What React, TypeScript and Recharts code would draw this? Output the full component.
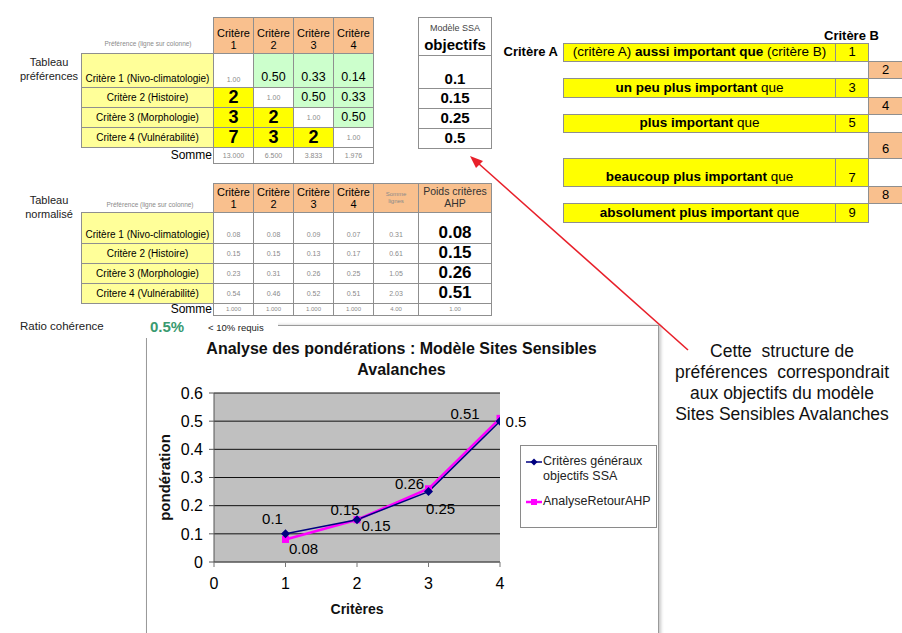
import React from "react";
import {
  LineChart,
  Line,
  XAxis,
  YAxis,
  CartesianGrid,
  Legend,
  LabelList,
  Label,
} from "recharts";

const FONT = '"Liberation Sans", Arial, sans-serif';

// criteria rows of both tables
const criteres = [
  "Critère 1 (Nivo-climatologie)",
  "Critère 2 (Histoire)",
  "Critère 3 (Morphologie)",
  "Critere 4 (Vulnérabilité)",
];
const colNums = ["1", "2", "3", "4"];

// pairwise preference matrix (row over column)
const prefMatrix = [
  [1, 0.5, 0.33, 0.14],
  [2, 1, 0.5, 0.33],
  [3, 2, 1, 0.5],
  [7, 3, 2, 1],
];
const prefSums = ["13.000", "6.500", "3.833", "1.976"];

// normalised matrix
const normMatrix = [
  [0.08, 0.08, 0.09, 0.07],
  [0.15, 0.15, 0.13, 0.17],
  [0.23, 0.31, 0.26, 0.25],
  [0.54, 0.46, 0.52, 0.51],
];
const rowSums = ["0.31", "0.61", "1.05", "2.03"];
const normSums = ["1.000", "1.000", "1.000", "1.000", "4.00", "1.00"];

// weights
const objectifsSSA = [0.1, 0.15, 0.25, 0.5];
const poidsAHP = [0.08, 0.15, 0.26, 0.51];
const xCriteres = [1, 2, 3, 4];
const xTicks = [0, 1, 2, 3, 4];
const yTicks = [0, 0.1, 0.2, 0.3, 0.4, 0.5, 0.6];
const seriesNames = ["Critères généraux objectifs SSA", "AnalyseRetourAHP"];

// Saaty scale
const echelleImpairs = [
  { pre: "(critère A) ", bold: "aussi important que", post: " (critère B)", v: "1" },
  { pre: "", bold: "un peu plus important", post: " que", v: "3" },
  { pre: "", bold: "plus important", post: " que", v: "5" },
  { pre: "", bold: "beaucoup plus important", post: " que", v: "7" },
  { pre: "", bold: "absolument plus important", post: " que", v: "9" },
];
const echellePairs = ["2", "4", "6", "8"];

const chartData = xCriteres.map((c, i) => ({
  critere: c,
  objectifs: objectifsSSA[i],
  ahp: poidsAHP[i],
}));

// label placement (dx, dy) per point
const objLabelPos = [
  [-13, -15],
  [19, 6],
  [12, 17],
  [16, 0],
];
const ahpLabelPos = [
  [18, 9],
  [-12, -10],
  [-19, -5],
  [-35, -5],
];

const BORDER = "1px solid #8f8f8f";
const PALE = "#ffff99";
const YELLOW = "#ffff00";
const GREEN = "#ccffcc";
const ORANGE = "#f9c08e";

function Box(props: any) {
  const { x, y, w, h, bg, align, justify, style, children } = props;
  return (
    <div
      style={{
        position: "absolute",
        left: x,
        top: y,
        width: w + 1,
        height: h + 1,
        background: bg || "#fff",
        border: BORDER,
        boxSizing: "border-box",
        display: "flex",
        alignItems: align || "center",
        justifyContent: justify || "center",
        textAlign: "center",
        lineHeight: 1.1,
        ...style,
      }}
    >
      {children}
    </div>
  );
}

function Txt(props: any) {
  const { x, y, w, children, style } = props;
  return (
    <div
      style={{
        position: "absolute",
        left: x,
        top: y,
        width: w,
        whiteSpace: "nowrap",
        ...style,
      }}
    >
      {children}
    </div>
  );
}

const fmt = (v: number) => v.toFixed(2);

const makeDot = (color: string, shape: string) => (props: any) => {
  const { cx, cy, index } = props;
  if (cx == null || cy == null) return <g key={index} />;
  if (shape === "diamond")
    return (
      <path
        key={index}
        d={`M${cx},${cy - 4.5}L${cx + 4.5},${cy}L${cx},${cy + 4.5}L${cx - 4.5},${cy}Z`}
        fill={color}
      />
    );
  return <rect key={index} x={cx - 3.5} y={cy - 3.5} width={7} height={7} fill={color} />;
};

const makeLabel = (pos: number[][]) => (props: any) => {
  const { index, value } = props;
  const x = props.x ?? props.viewBox?.x;
  const y = props.y ?? props.viewBox?.y;
  const [dx, dy] = pos[index] || [0, -10];
  return (
    <text
      key={index}
      x={x + dx}
      y={y + dy}
      textAnchor="middle"
      dominantBaseline="central"
      fontSize={15}
      fontFamily={FONT}
      fill="#000"
    >
      {value}
    </text>
  );
};

function LegendBox() {
  const sym = (color: string, shape: string) => (
    <svg width={16} height={10} style={{ flex: "none", marginTop: 3 }}>
      <line x1={0} y1={5} x2={16} y2={5} stroke={color} strokeWidth={color === "#ff00ff" ? 2.5 : 1.5} />
      {shape === "diamond" ? (
        <path d="M8,1.5L11.5,5L8,8.5L4.5,5Z" fill={color} />
      ) : (
        <rect x={5} y={2} width={6} height={6} fill={color} />
      )}
    </svg>
  );
  return (
    <div
      style={{
        width: 137,
        height: 83,
        boxSizing: "border-box",
        border: "1px solid #8a8a8a",
        background: "#fff",
        padding: "8px 3px 0 5px",
        fontFamily: FONT,
        fontSize: 12.5,
        lineHeight: "15px",
        color: "#222",
        textAlign: "left",
      }}
    >
      <div style={{ display: "flex", gap: 1 }}>
        {sym("#000080", "diamond")}
        <span>
          Critères généraux
          <br />
          objectifs SSA
        </span>
      </div>
      <div style={{ display: "flex", gap: 1, marginTop: 10 }}>
        {sym("#ff00ff", "square")}
        <span>{seriesNames[1]}</span>
      </div>
    </div>
  );
}

export default function App() {
  const t1x = [81, 213, 253, 293, 333, 373];
  const t1rows = [53, 87, 107, 127, 147];
  const t2x = [81, 213, 253, 293, 333, 373, 418, 491];
  const t2rows = [212, 243, 263, 283, 303];
  const faint = { fontSize: 7, color: "#8a8a8a" };

  return (
    <div
      style={{
        position: "absolute",
        left: 0,
        top: 0,
        width: 902,
        height: 633,
        background: "#fff",
        overflow: "hidden",
        fontFamily: FONT,
        color: "#000",
      }}
    >
      {/* ---------- Tableau préférences ---------- */}
      <Txt x={10} y={55} w={78} style={{ fontSize: 11, textAlign: "center", lineHeight: "14px", color: "#222" }}>
        Tableau
        <br />
        préférences
      </Txt>
      <Txt x={88} y={40} w={120} style={{ ...faint, fontSize: 6.5, textAlign: "center" }}>
        Préférence (ligne sur colonne)
      </Txt>
      {colNums.map((n, j) => (
        <Box key={"h1" + j} x={t1x[j + 1]} y={17} w={40} h={36} bg={ORANGE} align="flex-end" style={{ fontSize: 11, paddingBottom: 2 }}>
          Critère
          <br />
          {n}
        </Box>
      ))}
      {criteres.map((c, i) => (
        <React.Fragment key={"r1" + i}>
          <Box
            x={t1x[0]}
            y={t1rows[i]}
            w={132}
            h={t1rows[i + 1] - t1rows[i]}
            bg={PALE}
            align={i === 0 ? "flex-end" : "center"}
            style={{ fontSize: 10, paddingBottom: i === 0 ? 3 : 0 }}
          >
            {c}
          </Box>
          {prefMatrix[i].map((v, j) => {
            const diag = i === j;
            const lower = j < i;
            return (
              <Box
                key={j}
                x={t1x[j + 1]}
                y={t1rows[i]}
                w={40}
                h={t1rows[i + 1] - t1rows[i]}
                bg={diag ? "#fff" : lower ? YELLOW : GREEN}
                align={i === 0 ? "flex-end" : "center"}
                style={
                  diag
                    ? { ...faint, paddingBottom: i === 0 ? 3 : 0 }
                    : lower
                    ? { fontSize: 18, fontWeight: "bold" }
                    : { fontSize: 12.5, paddingBottom: i === 0 ? 2 : 0 }
                }
              >
                {diag ? "1.00" : lower ? v : fmt(v)}
              </Box>
            );
          })}
        </React.Fragment>
      ))}
      <Txt x={120} y={148} w={92} style={{ fontSize: 12, textAlign: "right" }}>
        Somme
      </Txt>
      {prefSums.map((s, j) => (
        <Box key={"s1" + j} x={t1x[j + 1]} y={147} w={40} h={16} style={faint}>
          {s}
        </Box>
      ))}

      {/* ---------- Modèle SSA objectifs ---------- */}
      <Box x={418} y={17} w={73} h={38} align="flex-start" style={{ flexDirection: "column", alignItems: "center", paddingTop: 4 }}>
        <span style={{ fontSize: 9, color: "#444" }}>Modèle SSA</span>
        <span style={{ fontSize: 15, fontWeight: "bold", marginTop: 3 }}>objectifs</span>
      </Box>
      {objectifsSSA.map((v, i) => (
        <Box
          key={"o" + i}
          x={418}
          y={[55, 88, 108, 128][i]}
          w={73}
          h={[33, 20, 20, 20][i]}
          align={i === 0 ? "flex-end" : "center"}
          style={{ fontSize: 15, fontWeight: "bold", paddingBottom: i === 0 ? 1 : 0 }}
        >
          {v}
        </Box>
      ))}

      {/* ---------- Échelle ---------- */}
      <Txt x={824} y={28} w={62} style={{ fontSize: 13, fontWeight: "bold" }}>
        Critère B
      </Txt>
      <Txt x={494} y={44} w={64} style={{ fontSize: 13, fontWeight: "bold", textAlign: "right" }}>
        Critère A
      </Txt>
      {echelleImpairs.map((e, i) => {
        const ys = [43, 78, 114, 158, 203];
        const hs = [18, 19, 18, 28, 19];
        return (
          <React.Fragment key={"e" + i}>
            <Box x={563} y={ys[i]} w={272} h={hs[i]} bg={YELLOW} align={i === 3 ? "flex-end" : "center"} style={{ fontSize: 13.5, paddingBottom: i === 3 ? 1 : 0, whiteSpace: "pre" }}>
              {e.pre}
              <b>{e.bold}</b>
              {e.post}
            </Box>
            <Box x={835} y={ys[i]} w={33} h={hs[i]} bg={YELLOW} align={i === 3 ? "flex-end" : "center"} style={{ fontSize: 13, paddingBottom: i === 3 ? 1 : 0 }}>
              {e.v}
            </Box>
          </React.Fragment>
        );
      })}
      {echellePairs.map((v, i) => {
        const ys = [61, 97, 132, 186];
        const hs = [17, 17, 26, 17];
        return (
          <Box key={"p" + i} x={868} y={ys[i]} w={40} h={hs[i]} bg={ORANGE} align={i === 2 ? "flex-end" : "center"} justify="flex-start" style={{ fontSize: 13, paddingLeft: 13, paddingBottom: i === 2 ? 2 : 0 }}>
            {v}
          </Box>
        );
      })}

      {/* ---------- Tableau normalisé ---------- */}
      <Txt x={10} y={193} w={78} style={{ fontSize: 11, textAlign: "center", lineHeight: "14px", color: "#222" }}>
        Tableau
        <br />
        normalisé
      </Txt>
      <Txt x={90} y={201} w={120} style={{ ...faint, fontSize: 6.5, textAlign: "center" }}>
        Préférence (ligne sur colonne)
      </Txt>
      {colNums.map((n, j) => (
        <Box key={"h2" + j} x={t2x[j + 1]} y={183} w={40} h={29} bg={ORANGE} style={{ fontSize: 11 }}>
          Critère
          <br />
          {n}
        </Box>
      ))}
      <Box x={373} y={183} w={45} h={29} bg={ORANGE} style={{ ...faint, fontSize: 6 }}>
        Somme
        <br />
        lignes
      </Box>
      <Box x={418} y={183} w={73} h={29} bg={ORANGE} style={{ fontSize: 10.5, color: "#333" }}>
        Poids critères
        <br />
        AHP
      </Box>
      {criteres.map((c, i) => {
        const h = t2rows[i + 1] - t2rows[i];
        const al = i === 0 ? "flex-end" : "center";
        return (
          <React.Fragment key={"r2" + i}>
            <Box x={t2x[0]} y={t2rows[i]} w={132} h={h} bg={PALE} align={al} style={{ fontSize: 10, paddingBottom: i === 0 ? 3 : 0 }}>
              {c}
            </Box>
            {normMatrix[i].map((v, j) => (
              <Box key={j} x={t2x[j + 1]} y={t2rows[i]} w={40} h={h} align={al} style={{ ...faint, paddingBottom: i === 0 ? 4 : 0 }}>
                {fmt(v)}
              </Box>
            ))}
            <Box x={373} y={t2rows[i]} w={45} h={h} align={al} style={{ ...faint, paddingBottom: i === 0 ? 4 : 0 }}>
              {rowSums[i]}
            </Box>
            <Box x={418} y={t2rows[i]} w={73} h={h} align={al} style={{ fontSize: 17, fontWeight: "bold" }}>
              {fmt(poidsAHP[i])}
            </Box>
          </React.Fragment>
        );
      })}
      <Txt x={120} y={302} w={92} style={{ fontSize: 12, textAlign: "right" }}>
        Somme
      </Txt>
      {normSums.map((s, j) => (
        <Box key={"s2" + j} x={t2x[j + 1]} y={303} w={t2x[j + 2] - t2x[j + 1]} h={12} style={{ ...faint, fontSize: 6 }}>
          {s}
        </Box>
      ))}

      {/* ---------- chart ---------- */}
      <div
        style={{
          position: "absolute",
          left: 146,
          top: 325,
          width: 511,
          height: 320,
          border: "1px solid #9a9a9a",
          boxShadow: "2px 0 3px #c8c8c8",
          background: "#fff",
        }}
      />
      <div style={{ position: "absolute", left: 140, top: 317, width: 138, height: 21, background: "#fff" }} />
      <Txt x={20} y={320} w={110} style={{ fontSize: 11.5, color: "#222" }}>
        Ratio cohérence
      </Txt>
      <Txt x={150} y={318} w={50} style={{ fontSize: 15, fontWeight: "bold", color: "#3a9a70" }}>
        0.5%
      </Txt>
      <Txt x={205} y={322} w={72} style={{ fontSize: 9.5, color: "#222", paddingLeft: 3 }}>
        &lt; 10% requis
      </Txt>
      <div
        style={{
          position: "absolute",
          left: 146,
          top: 338,
          width: 511,
          textAlign: "center",
          fontSize: 16,
          fontWeight: "bold",
          lineHeight: "21px",
          color: "#111",
        }}
      >
        Analyse des pondérations : Modèle Sites Sensibles
        <br />
        Avalanches
      </div>
      <div style={{ position: "absolute", left: 146, top: 325 }}>
        <LineChart
          width={511}
          height={308}
          data={chartData}
          margin={{ top: 68, right: 157, bottom: 41, left: 18 }}
        >
          <CartesianGrid fill="#c0c0c0" fillOpacity={1} stroke="#111" vertical={false} />
          <XAxis
            dataKey="critere"
            type="number"
            domain={[0, 4]}
            ticks={xTicks}
            height={30}
            tickSize={5}
            tickMargin={11}
            stroke="#777"
            tick={{ fill: "#000", fontSize: 16, fontFamily: FONT }}
            allowDataOverflow
          >
            <Label value="Critères" position="bottom" offset={12} style={{ fontSize: 14, fontWeight: "bold", fill: "#111", fontFamily: FONT }} />
          </XAxis>
          <YAxis
            type="number"
            domain={[0, 0.6]}
            ticks={yTicks}
            width={50}
            tickSize={5}
            tickMargin={6}
            stroke="#555"
            tick={{ fill: "#000", fontSize: 16, fontFamily: FONT }}
          >
            <Label
              value="pondération"
              angle={-90}
              position="insideLeft"
              offset={1}
              style={{ textAnchor: "middle", fontSize: 15, fontWeight: "bold", fill: "#111", fontFamily: FONT }}
            />
          </YAxis>
          <Legend
            layout="vertical"
            align="center"
            verticalAlign="middle"
            wrapperStyle={{ left: 374, top: 120, width: 137 }}
            content={() => <LegendBox />}
          />
          <Line
            dataKey="ahp"
            name={seriesNames[1]}
            stroke="#ff00ff"
            strokeWidth={2.5}
            dot={makeDot("#ff00ff", "square")}
            isAnimationActive={false}
          >
            <LabelList dataKey="ahp" content={makeLabel(ahpLabelPos)} />
          </Line>
          <Line
            dataKey="objectifs"
            name={seriesNames[0]}
            stroke="#000080"
            strokeWidth={1.5}
            dot={makeDot("#000080", "diamond")}
            isAnimationActive={false}
          >
            <LabelList dataKey="objectifs" content={makeLabel(objLabelPos)} />
          </Line>
        </LineChart>
      </div>

      {/* ---------- annotation ---------- */}
      <div
        style={{
          position: "absolute",
          left: 662,
          top: 341,
          width: 240,
          textAlign: "center",
          fontSize: 17.5,
          lineHeight: "21px",
          color: "#111",
        }}
      >
        Cette&nbsp; structure de
        <br />
        préférences&nbsp; correspondrait
        <br />
        aux objectifs du modèle
        <br />
        Sites Sensibles Avalanches
      </div>
      <svg
        width={902}
        height={633}
        style={{ position: "absolute", left: 0, top: 0, pointerEvents: "none" }}
      >
        <line x1={688} y1={350} x2={478} y2={163} stroke="#e8202a" strokeWidth={1.6} />
        <polygon points="470,156 483,161 476,168" fill="#e8202a" />
      </svg>
    </div>
  );
}
